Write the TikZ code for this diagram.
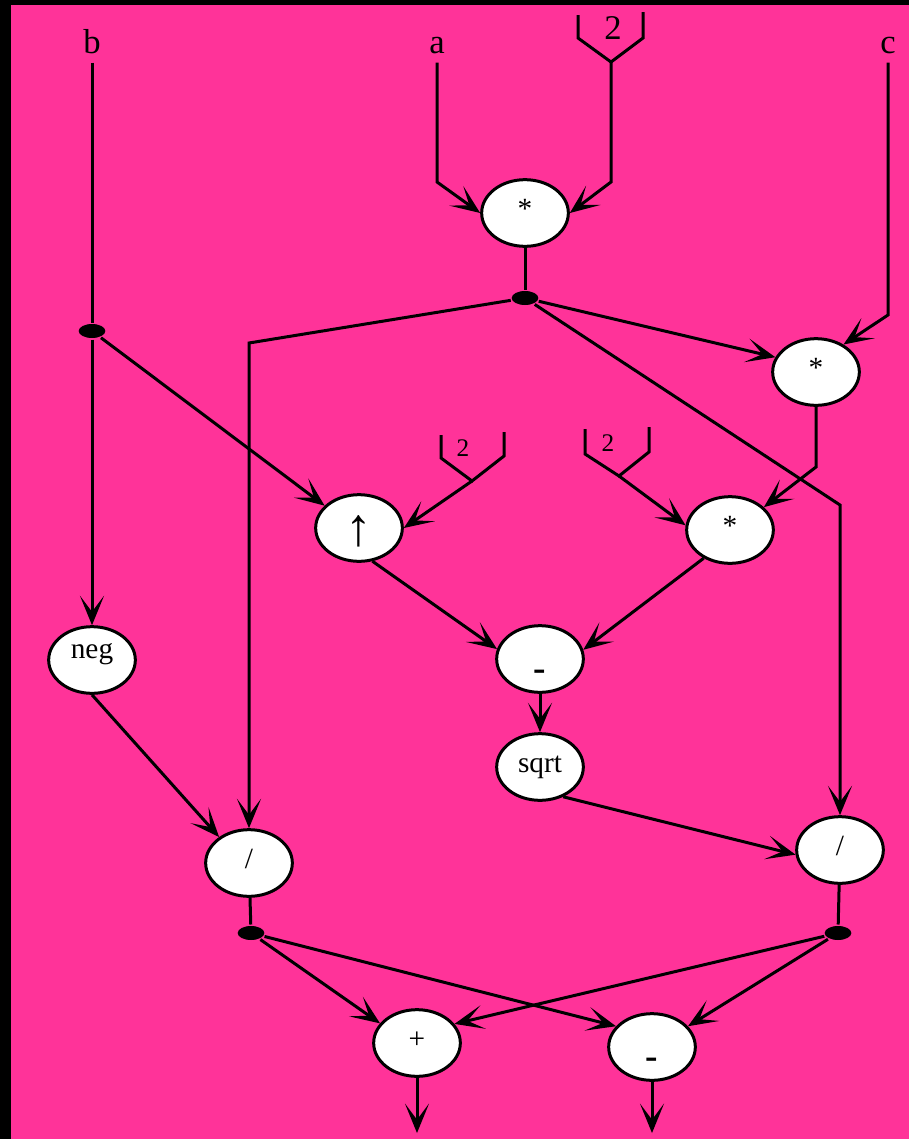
\documentclass[tikz,border=0pt]{standalone}
\usepackage{fontspec}
\setmainfont{Liberation Serif}
\usetikzlibrary{arrows.meta,shapes.geometric}
\definecolor{sheet}{RGB}{255,51,153}

\begin{document}
\begin{tikzpicture}[
  x=0.75pt, y=-0.75pt,
  line width=2.25pt,
  op/.style={draw, ellipse, fill=white, minimum width=65pt, minimum height=50pt, inner sep=0pt,
    font=\fontsize{22}{26}\selectfont, text height=10pt, text depth=2pt},
  var/.style={font=\fontsize{26}{30}\selectfont, inner sep=0pt, outer sep=7pt, anchor=base},
  cst/.style={font=\fontsize{19}{22}\selectfont, inner sep=0pt},
  joint/.style={ellipse, fill=black, minimum width=20pt, minimum height=10.5pt, inner sep=0pt},
  flow/.style={-{Stealth[length=22pt, width=18pt, inset=12pt]}}
]
% sheet
\useasboundingbox (0,0) rectangle (909,1139);
\fill[black] (0,0) rectangle (909,1139);
\fill[sheet] (11,5) rectangle (909,1139);

% inputs
\node[var] (lb) at (92,53) {b};
\node[var] (la) at (437,53) {a};
\node[var] (lc) at (888,53) {c};

% operators
\node[op] (mulA) at (525,213) {*};
\node[op] (mulC) at (816,372) {*};
\node[op] (pow) at (359,528) {\raisebox{-9pt}{\fontsize{40}{40}\selectfont ↑}};
\node[op] (mulB) at (730,530) {*};
\node[op] (sub) at (540,659) {\raisebox{-12pt}{\fontsize{28}{28}\selectfont\bfseries -}};
\node[op] (sqrt) at (540,767) {sqrt};
\node[op] (neg) at (92,660) {\raisebox{5pt}{neg}};
\node[op] (divL) at (249,863) {/};
\node[op] (divR) at (840,850) {/};
\node[op] (add) at (417,1043) {+};
\node[op] (subB) at (652,1047) {\raisebox{-12pt}{\fontsize{28}{28}\selectfont\bfseries -}};

% fan-out points
\node[joint] (dA) at (525,298) {};
\node[joint] (dB) at (92,331) {};
\node[joint] (dL) at (251,933) {};
\node[joint] (dR) at (838,933) {};

% constants
\coordinate (kA) at (611,62);
\coordinate (kB) at (472,481);
\coordinate (kC) at (619,476);
\node[cst, font=\fontsize{26}{30}\selectfont] (kAval) at (613,28) {2};
\node[cst] (kBval) at (463,448) {2};
\node[cst] (kCval) at (608,443) {2};
\draw (578,15) -- (578,38) -- (kA) -- (643,38) -- (643,12);
\draw (441,435) -- (441,458) -- (kB) -- (504,456) -- (504,432);
\draw (585,429) -- (585,454) -- (kC) -- (649,452) -- (649,427);

% data flow
\draw[flow] (la) -- (437,182) -- (mulA.west);
\draw[flow] (kA) -- (611,182) -- (mulA.east);
\draw[flow] (lc) -- (888,315) -- (mulC.45);
\draw (lb) -- (dB);
\draw (mulA) -- (dA);
\draw[flow] (dA) -- (249,343) -- (divL.north);
\draw[flow] (dA) -- (mulC.160);
\draw[flow] (dA) -- (840,505) -- (divR.north);
\draw[flow] (dB) -- (neg);
\draw[flow] (dB) -- (pow.147);
\draw[flow] (kB) -- (pow.east);
\draw[flow] (kC) -- (mulB.174);
\draw[flow] (mulC) -- (816,467) -- (mulB.34);
\draw[flow] (pow.-68) -- (sub.167);
\draw[flow] (mulB.-133) -- (sub.12);
\draw[flow] (sub) -- (sqrt);
\draw[flow] (sqrt.-52) -- (divR.186);
\draw[flow] (neg.south) -- (divL.139);
\draw (divL) -- (dL);
\draw (divR) -- (dR);
\draw[flow] (dL) -- (add.152);
\draw[flow] (dL) -- (subB.150);
\draw[flow] (dR) -- (add.27);
\draw[flow] (dR) -- (subB.30);

% results
\coordinate (outAdd) at (417,1133);
\coordinate (outSub) at (652,1133);
\draw[flow] (add) -- (outAdd);
\draw[flow] (subB) -- (outSub);
\end{tikzpicture}
\end{document}
